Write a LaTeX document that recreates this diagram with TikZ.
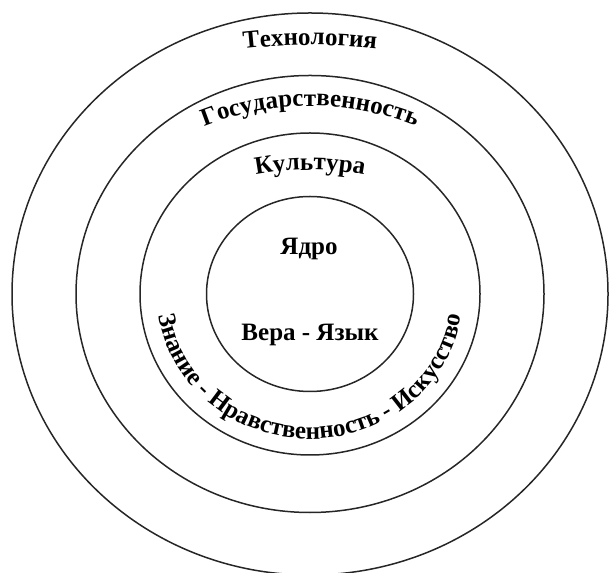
\documentclass[tikz,border=0pt]{standalone}
\usepackage{fontspec}
\setmainfont{Liberation Serif}
\usetikzlibrary{decorations.text}
\newcommand{\ringfont}{\fontsize{25}{30}\selectfont\bfseries}

\begin{document}
\begin{tikzpicture}[x=1pt, y=1pt,
  ring/.style={line width=1.5pt, draw=black!85},
  centretext/.style={font=\ringfont, inner sep=0pt},
  curved/.style={decorate, decoration={text along path, text align=center, text={|\ringfont|#1}}}]
  \useasboundingbox (0,0) rectangle (609,572);
  \coordinate (c) at (310,278);
  % rings, outside in
  \draw[ring] (c) ellipse [x radius=298, y radius=281];
  \draw[ring] (c) ellipse [x radius=234, y radius=218.5];
  \draw[ring] (c) ellipse [x radius=170, y radius=161];
  \draw[ring] (c) ellipse [x radius=103.5, y radius=97.5];
  % core
  \node[centretext] (core) at (309,323) {Ядро};
  \node[centretext] (faith) at (310,237) {Вера - Язык};
  % titles along the rings
  \path[curved=Технология] ([shift={(110:600)}]310,-73) arc[start angle=110, end angle=70, radius=600];
  \path[curved=Государственность] ([shift={(130:285)}]310,181) arc[start angle=130, end angle=50, radius=285];
  \path[curved=Культура] ([shift={(115:290)}]310,112) arc[start angle=115, end angle=65, radius=290];
  \path[curved=Знание - Нравственность - Искусство] ([shift={(187:153 and 145)}]c) arc[start angle=187, end angle=353, x radius=153, y radius=145];
\end{tikzpicture}
\end{document}
